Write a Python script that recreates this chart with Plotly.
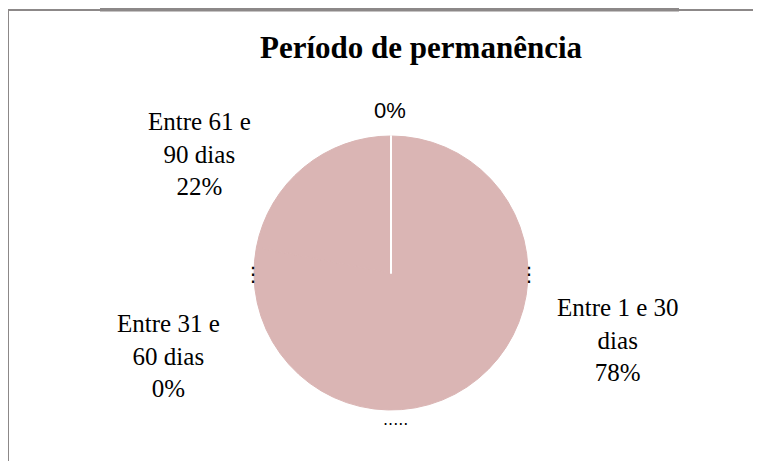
import plotly.graph_objects as go

# ---- data ----
categories = ["Entre 1 e 30 dias", "Entre 31 e 60 dias", "Entre 61 e 90 dias", ""]
values = [78, 0, 22, 0]
label_texts = ["Entre 1 e 30<br>dias", "Entre 31 e<br>60 dias", "Entre 61 e<br>90 dias", ""]
title_text = "Período de permanência"

W, H = 761, 461
OX, OY = 8, 8   # page body margin
total = sum(values)
pcts = [round(v / total * 100) for v in values]

pie_color = "#DAB5B4"
frame_color = "#8C8888"

cx, cy, r = 391, 273, 137


def px(x):
    return (x - OX) / W


def py(y):
    return 1 - (y - OY) / H


fig = go.Figure(go.Pie(
    labels=[c if c else "(sem rótulo)" for c in categories],
    values=values,
    sort=False,
    direction="clockwise",
    rotation=0,
    textinfo="none",
    showlegend=False,
    marker=dict(colors=[pie_color] * len(values),
                line=dict(color=[pie_color, pie_color, pie_color, "white"],
                          width=[1, 0, 1, 2])),
    domain=dict(x=[px(cx - r), px(cx + r)],
                y=[py(cy + r), py(cy - r)]),
    hoverinfo="label+percent",
))

annotations = []
# title
annotations.append(dict(x=px(421), y=py(47), xref="paper", yref="paper",
                        text="<b>" + title_text + "</b>", showarrow=False,
                        xanchor="center", yanchor="middle",
                        font=dict(family="Liberation Serif", size=31, color="black")))
# label positions (styling)
label_pos = [(617, 340), (168, 356), (200, 154), (390, 110)]
for i in range(len(values)):
    x, y = label_pos[i]
    if label_texts[i]:
        txt = f"{label_texts[i]}<br>{pcts[i]}%"
        fnt = dict(family="Liberation Serif", size=25, color="black")
    else:
        txt = f"{pcts[i]}%"
        fnt = dict(family="Liberation Sans", size=22, color="black")
    annotations.append(dict(x=px(x), y=py(y), xref="paper", yref="paper",
                            text=txt, showarrow=False, xanchor="center",
                            yanchor="middle", align="center", font=fnt))
# leader-line remnants
for (x, y, t, s) in [(253, 274, "⋮", 20), (529, 274, "⋮", 20), (395, 419, ".....", 16)]:
    annotations.append(dict(x=px(x), y=py(y), xref="paper", yref="paper",
                            text=t, showarrow=False, xanchor="center",
                            yanchor="middle",
                            font=dict(family="DejaVu Sans", size=s, color="black")))

shapes = [
    dict(type="line", xref="paper", yref="paper", x0=px(8), x1=px(8),
         y0=py(9), y1=py(470), line=dict(color=frame_color, width=2)),
    dict(type="line", xref="paper", yref="paper", x0=px(7), x1=px(770),
         y0=py(10), y1=py(10), line=dict(color=frame_color, width=2)),
    dict(type="line", xref="paper", yref="paper", x0=px(100), x1=px(679),
         y0=py(9.5), y1=py(9.5), line=dict(color=frame_color, width=4)),
]

fig.update_layout(width=W, height=H, margin=dict(l=0, r=0, t=0, b=0),
                  paper_bgcolor="white", plot_bgcolor="white",
                  annotations=annotations, shapes=shapes)

fig.write_html("out.html")
